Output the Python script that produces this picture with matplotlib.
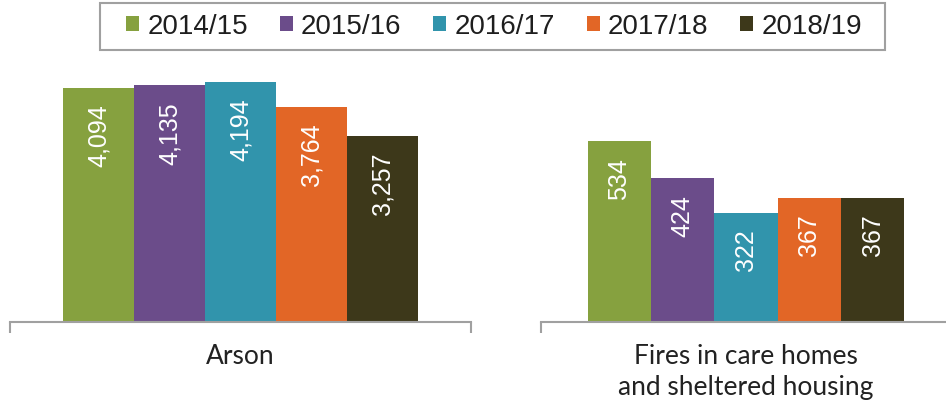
import matplotlib
matplotlib.use("Agg")
import matplotlib.pyplot as plt
from matplotlib.patches import Patch, Rectangle

years = ["2014/15", "2015/16", "2016/17", "2017/18", "2018/19"]
arson = [4094, 4135, 4194, 3764, 3257]
care_homes = [534, 424, 322, 367, 367]
categories = ["Arson", "Fires in care homes\nand sheltered housing"]
colors = ["#86A13F", "#6B4C8A", "#3194AC", "#E26626", "#3D381A"]

plt.rcParams["font.family"] = ["Liberation Sans", "DejaVu Sans"]

W, H = 946, 409
fig = plt.figure(figsize=(W / 100, H / 100), dpi=100)

def px_axes(x0, x1, base, height):
    return fig.add_axes([x0 / W, (H - base) / H, (x1 - x0) / W, height / H])

panels = [
    (px_axes(10, 471, 322, 286), arson, 5000, categories[0], 0.154),
    (px_axes(541, 951, 322, 203.4), care_homes, 600, categories[1], 0.1544),
]

for ax, vals, ymax, cat, bw in panels:
    for i, (v, c) in enumerate(zip(vals, colors)):
        x = (i - 2) * bw
        ax.bar(x, v, width=bw, color=c, edgecolor="none")
        ax.annotate(f"{v:,}", xy=(x, v), xytext=(0, -12), textcoords="offset points",
                    rotation=90, ha="center", va="top", color="white",
                    fontsize=18, family=["Liberation Sans", "DejaVu Sans"])
    ax.set_xlim(-0.5, 0.5)
    ax.set_ylim(0, ymax)
    for s in ["top", "left", "right"]:
        ax.spines[s].set_visible(False)
    ax.spines["bottom"].set_color("#A0A0A0")
    ax.spines["bottom"].set_linewidth(1.5)
    ax.set_yticks([])
    ax.set_xticks([0])
    ax.set_xticklabels([cat], fontsize=19, color="#222222", linespacing=1.3,
                       family=["Lato", "DejaVu Sans"])
    ax.tick_params(axis="x", which="major", length=0, pad=16)
    ax.set_xticks([-0.5, 0.5], minor=True)
    ax.tick_params(axis="x", which="minor", length=7.7, width=1.5, color="#A0A0A0", direction="out")

handles = [Patch(facecolor=c, edgecolor="none") for c in colors]
leg = fig.legend(handles, years, loc="center", bbox_to_anchor=(494 / W, 1 - 26.5 / H),
                 ncol=5, frameon=False, fontsize=20, handlelength=0.47, handleheight=0.47,
                 handletextpad=0.29, columnspacing=1.15, borderpad=0.2)
for t in leg.get_texts():
    t.set_color("#1E1E1E")
fig.patches.append(Rectangle((100 / W, 1 - 50 / H), 785 / W, 47 / H, transform=fig.transFigure,
                             facecolor="none", edgecolor="#A0A0A0", linewidth=1.5))

fig.savefig("out.png", dpi=100)
